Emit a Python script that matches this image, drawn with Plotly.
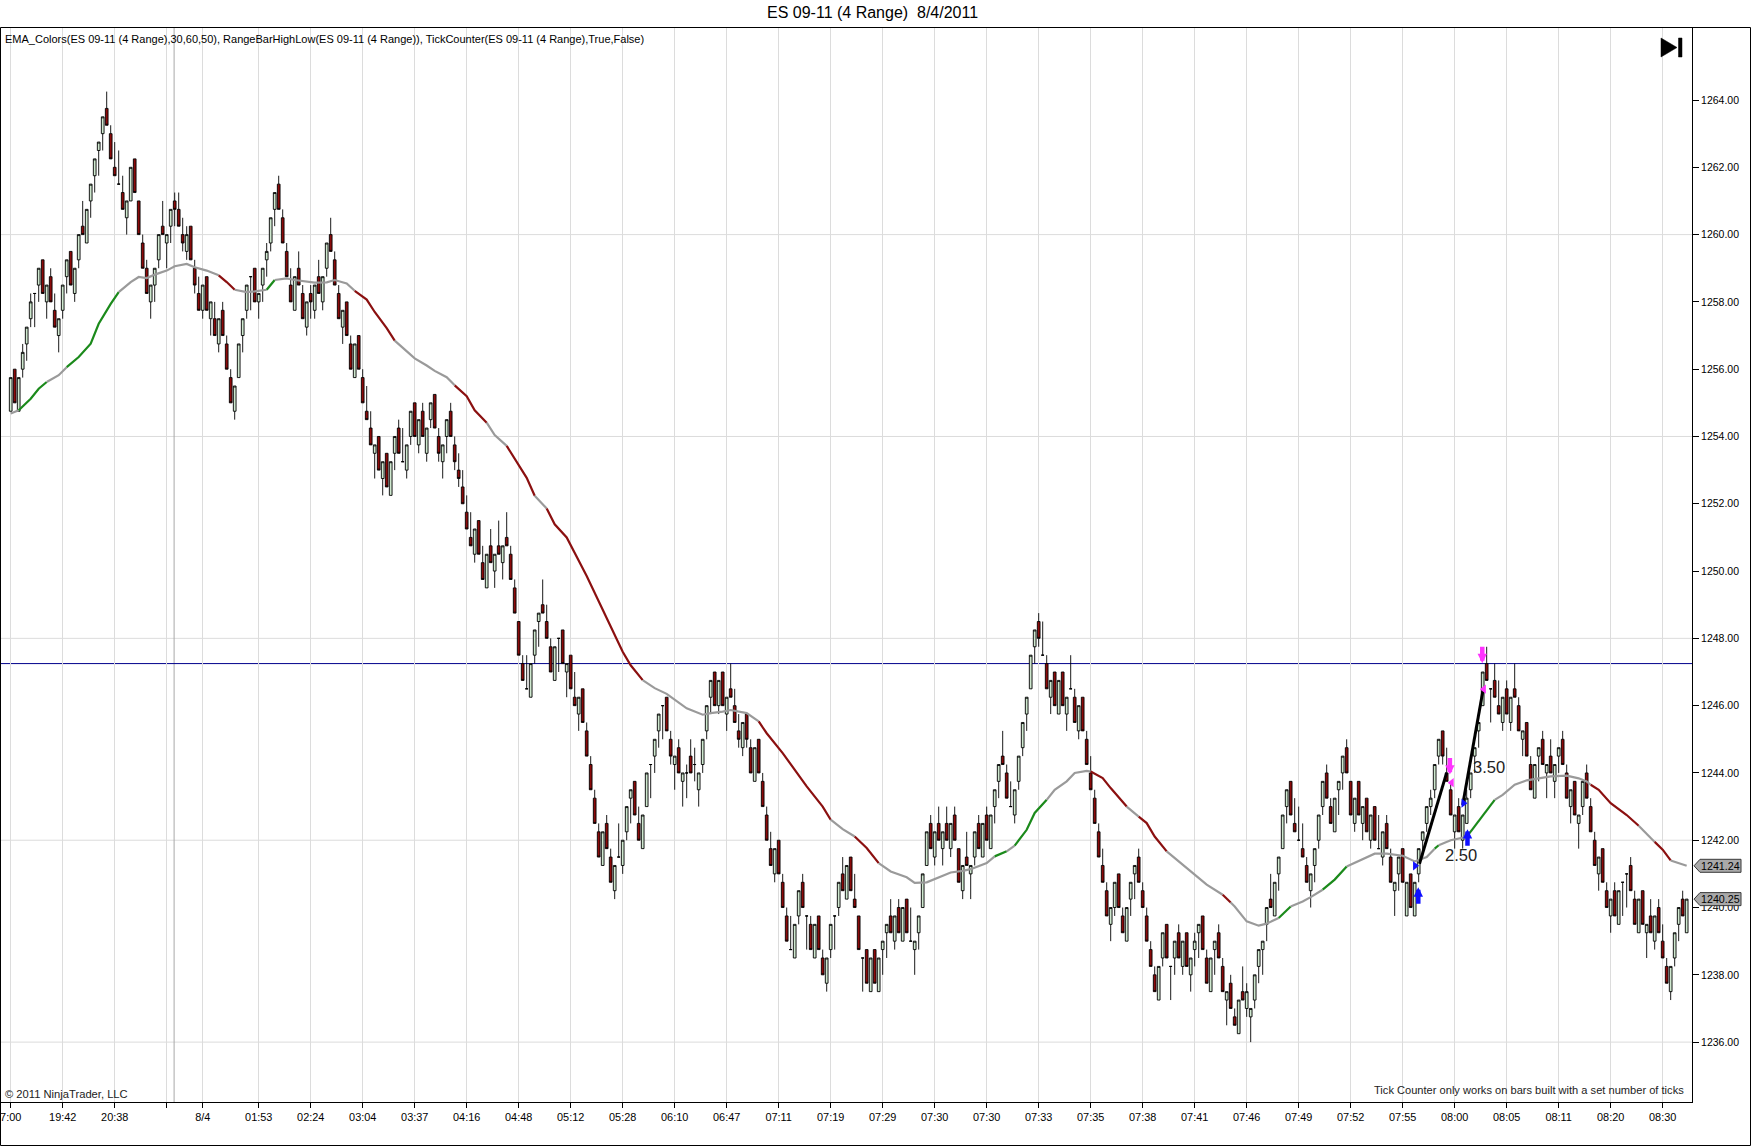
import plotly.graph_objects as go

# ES 09-11 4-range bars, 8/4/2011
opens = [
    1254.75, 1256.0, 1254.75, 1256.0, 1256.75, 1257.5, 1258.25, 1258.5, 1259.25, 1258.0,
    1258.75, 1257.75, 1257.0, 1257.75, 1258.75, 1259.5, 1258.25, 1259.25, 1260.25, 1259.75,
    1261.0, 1261.75, 1262.5, 1263.0, 1263.75, 1263.0, 1262.0, 1261.5, 1261.25, 1260.5,
    1261.0, 1262.25, 1261.0, 1259.75, 1259.0, 1258.0, 1258.5, 1259.25, 1260.25, 1259.75,
    1260.25, 1261.0, 1260.75, 1260.0, 1259.5, 1260.25, 1259.0, 1258.25, 1257.75, 1258.75,
    1257.5, 1257.5, 1256.75, 1257.75, 1256.75, 1255.75, 1254.75, 1255.75, 1257.0, 1257.75,
    1258.75, 1259.0, 1258.0, 1258.5, 1259.25, 1259.75, 1260.75, 1261.5, 1260.5, 1259.5,
    1258.5, 1257.75, 1259.0, 1258.25, 1257.25, 1258.25, 1257.75, 1258.75, 1258.0, 1259.0,
    1260.0, 1259.25, 1258.25, 1257.25, 1258.0, 1256.75, 1255.75, 1257.0, 1255.75, 1254.75,
    1254.25, 1253.5, 1254.0, 1252.75, 1253.5, 1252.25, 1253.5, 1254.25, 1253.25, 1253.0,
    1254.0, 1255.0, 1253.75, 1254.75, 1253.5, 1254.5, 1255.25, 1254.0, 1253.25, 1254.0,
    1254.75, 1253.75, 1253.0, 1252.5, 1251.75, 1251.0, 1250.5, 1251.5, 1250.25, 1249.5,
    1250.75, 1250.0, 1250.75, 1250.25, 1251.0, 1250.5, 1249.5, 1248.5, 1247.25, 1246.5,
    1246.25, 1247.5, 1248.5, 1249.0, 1248.5, 1247.75, 1246.75, 1248.0, 1248.25, 1247.0,
    1247.5, 1246.25, 1245.75, 1246.5, 1245.25, 1244.25, 1243.25, 1242.25, 1241.25, 1242.5,
    1241.5, 1240.5, 1241.5, 1241.25, 1242.25, 1243.25, 1243.75, 1242.5, 1241.75, 1243.0,
    1244.25, 1244.5, 1245.25, 1246.0, 1246.25, 1245.0, 1244.25, 1244.75, 1243.75, 1244.0,
    1244.5, 1244.25, 1243.5, 1244.25, 1245.25, 1246.25, 1247.0, 1246.0, 1247.0, 1245.75,
    1246.5, 1246.0, 1245.25, 1244.75, 1245.75, 1244.75, 1243.75, 1245.0, 1243.75, 1242.75,
    1241.75, 1241.0, 1242.0, 1240.75, 1239.75, 1238.75, 1238.5, 1239.75, 1240.75, 1239.75,
    1239.5, 1238.5, 1239.75, 1238.5, 1237.75, 1238.75, 1239.75, 1240.0, 1241.0, 1240.25,
    1241.5, 1240.25, 1239.75, 1238.5, 1238.75, 1237.5, 1238.75, 1237.5, 1238.75, 1239.25,
    1239.75, 1239.0, 1240.0, 1239.0, 1240.25, 1239.0, 1238.75, 1239.25, 1240.0, 1241.25,
    1242.5, 1241.5, 1242.5, 1241.75, 1242.5, 1241.75, 1242.75, 1241.75, 1240.5, 1241.5,
    1241.0, 1241.5, 1242.5, 1241.5, 1242.75, 1241.75, 1243.0, 1243.75, 1244.5, 1244.0,
    1243.0, 1242.75, 1243.75, 1244.75, 1245.75, 1246.5, 1247.75, 1248.5, 1247.5, 1247.25,
    1246.25, 1247.0, 1245.75, 1247.0, 1245.75, 1246.5, 1246.25, 1245.25, 1246.25, 1245.0,
    1244.0, 1243.25, 1242.25, 1241.25, 1240.5, 1239.5, 1240.0, 1241.0, 1239.75, 1239.0,
    1240.25, 1241.0, 1241.5, 1240.5, 1239.75, 1238.75, 1238.0, 1237.25, 1238.5, 1239.5,
    1238.25, 1238.5, 1239.25, 1238.25, 1239.25, 1238.0, 1238.75, 1239.25, 1239.75, 1238.5,
    1237.5, 1238.75, 1239.25, 1238.25, 1237.25, 1237.75, 1236.75, 1236.25, 1237.5, 1237.0,
    1236.75, 1237.25, 1238.25, 1238.75, 1239.5, 1240.25, 1239.75, 1241.0, 1241.75, 1243.0,
    1243.75, 1242.5, 1242.0, 1241.75, 1241.25, 1240.5, 1241.25, 1242.0, 1243.0, 1244.0,
    1243.0, 1242.25, 1243.5, 1244.0, 1244.75, 1243.75, 1242.5, 1243.75, 1242.5, 1243.25,
    1242.0, 1243.0, 1241.75, 1241.5, 1242.5, 1241.5, 1240.5, 1241.0, 1241.75, 1239.75,
    1241.0, 1239.75, 1241.0, 1242.0, 1242.5, 1243.0, 1243.5, 1244.5, 1245.25, 1244.0,
    1243.5, 1242.25, 1243.0, 1242.0, 1242.5, 1243.5, 1244.5, 1245.25, 1246.0, 1247.25,
    1246.5, 1246.75, 1246.0, 1245.5, 1246.5, 1245.5, 1246.5, 1246.0, 1245.0, 1245.5,
    1244.25, 1243.25, 1244.5, 1245.0, 1244.0, 1244.5, 1243.75, 1244.5, 1245.0, 1244.0,
    1243.0, 1243.75, 1242.5, 1243.0, 1244.0, 1243.0, 1242.0, 1241.0, 1241.75, 1240.5,
    1239.75, 1240.5, 1239.5, 1240.75, 1241.0, 1241.25, 1240.25, 1239.25, 1240.5, 1239.25,
    1239.75, 1239.0, 1240.0, 1239.0, 1238.25, 1237.5, 1238.5, 1239.5, 1240.25, 1239.25,
]
highs = [
    1255.75, 1256.0, 1255.75, 1256.75, 1257.25, 1258.25, 1258.25, 1259.0, 1259.25, 1258.5,
    1259.0, 1258.25, 1257.5, 1258.5, 1259.25, 1259.5, 1259.0, 1260.0, 1261.0, 1260.75,
    1261.5, 1262.25, 1262.75, 1263.5, 1264.25, 1263.25, 1262.75, 1262.5, 1261.75, 1261.0,
    1262.0, 1262.25, 1261.0, 1260.0, 1259.25, 1258.5, 1259.0, 1260.0, 1261.0, 1260.0,
    1260.75, 1261.25, 1261.25, 1260.5, 1260.25, 1260.25, 1259.25, 1258.75, 1258.5, 1258.75,
    1258.0, 1258.0, 1257.5, 1258.0, 1257.0, 1256.0, 1255.5, 1256.75, 1257.5, 1258.5,
    1258.75, 1259.0, 1258.25, 1259.0, 1259.75, 1260.5, 1261.25, 1261.75, 1260.75, 1259.75,
    1259.0, 1258.75, 1259.5, 1258.5, 1258.0, 1258.5, 1258.5, 1259.25, 1258.75, 1259.75,
    1260.5, 1259.5, 1258.5, 1257.75, 1258.0, 1257.0, 1256.75, 1257.0, 1256.0, 1255.5,
    1254.75, 1253.75, 1254.0, 1253.25, 1253.5, 1253.25, 1254.0, 1254.5, 1254.25, 1253.75,
    1254.75, 1255.0, 1254.5, 1255.0, 1254.25, 1255.0, 1255.25, 1254.25, 1253.75, 1254.5,
    1255.0, 1254.0, 1253.5, 1253.0, 1252.25, 1251.75, 1251.25, 1251.5, 1250.75, 1250.5,
    1251.25, 1250.5, 1251.5, 1250.75, 1251.75, 1250.75, 1249.75, 1248.5, 1247.5, 1247.5,
    1247.25, 1248.25, 1248.75, 1249.75, 1249.0, 1248.0, 1247.75, 1248.0, 1248.25, 1247.25,
    1247.5, 1247.0, 1246.25, 1246.5, 1245.5, 1244.5, 1243.5, 1242.5, 1242.25, 1242.75,
    1241.75, 1241.25, 1242.5, 1242.0, 1243.0, 1243.5, 1243.75, 1243.0, 1242.75, 1244.0,
    1244.25, 1245.0, 1245.75, 1246.0, 1246.25, 1245.25, 1244.5, 1245.0, 1244.0, 1244.25,
    1245.0, 1244.75, 1244.0, 1245.0, 1246.0, 1246.75, 1247.0, 1246.75, 1247.0, 1246.25,
    1247.25, 1246.5, 1245.75, 1245.5, 1245.75, 1245.0, 1244.75, 1245.0, 1244.0, 1243.0,
    1242.25, 1241.75, 1242.0, 1241.0, 1240.0, 1239.75, 1239.5, 1240.5, 1241.0, 1239.75,
    1239.75, 1239.5, 1239.75, 1238.75, 1238.5, 1239.5, 1239.75, 1240.75, 1241.5, 1241.25,
    1241.5, 1241.0, 1239.75, 1238.5, 1238.75, 1238.5, 1238.75, 1238.5, 1239.0, 1239.5,
    1240.25, 1239.75, 1240.25, 1240.0, 1240.25, 1240.0, 1239.0, 1239.75, 1241.0, 1242.25,
    1242.75, 1242.25, 1243.0, 1242.25, 1243.0, 1242.5, 1243.0, 1241.75, 1241.25, 1242.25,
    1241.25, 1242.25, 1242.75, 1242.5, 1243.0, 1242.75, 1243.5, 1244.25, 1245.25, 1244.25,
    1243.75, 1243.5, 1244.5, 1245.5, 1246.25, 1247.5, 1248.25, 1248.75, 1248.5, 1247.5,
    1246.75, 1247.0, 1246.75, 1247.0, 1246.25, 1247.5, 1246.5, 1246.0, 1246.25, 1245.25,
    1244.5, 1243.5, 1242.5, 1241.75, 1240.75, 1240.0, 1240.75, 1241.0, 1240.0, 1240.0,
    1240.75, 1241.25, 1241.75, 1240.75, 1240.0, 1239.0, 1238.25, 1238.25, 1239.25, 1239.5,
    1238.25, 1239.0, 1239.5, 1239.0, 1239.25, 1238.5, 1239.25, 1239.5, 1239.75, 1238.75,
    1238.5, 1239.0, 1239.5, 1238.5, 1237.5, 1238.0, 1237.0, 1237.25, 1238.25, 1237.75,
    1237.0, 1238.0, 1238.75, 1239.0, 1240.0, 1241.0, 1240.75, 1241.5, 1242.75, 1243.5,
    1243.75, 1243.25, 1243.0, 1242.5, 1241.5, 1241.0, 1241.75, 1242.75, 1243.75, 1244.25,
    1243.25, 1243.25, 1243.75, 1244.5, 1245.0, 1243.75, 1243.25, 1243.75, 1243.0, 1243.25,
    1242.75, 1243.0, 1242.75, 1242.25, 1242.75, 1241.75, 1240.75, 1241.5, 1241.75, 1240.75,
    1241.0, 1240.75, 1241.75, 1242.25, 1243.0, 1243.5, 1244.25, 1245.0, 1245.25, 1244.75,
    1243.75, 1242.75, 1243.25, 1242.75, 1243.5, 1244.0, 1244.75, 1245.5, 1247.0, 1247.75,
    1246.5, 1247.25, 1246.75, 1246.25, 1246.75, 1246.25, 1247.25, 1246.25, 1245.25, 1245.5,
    1244.5, 1244.25, 1244.75, 1245.25, 1244.25, 1245.0, 1244.25, 1244.75, 1245.25, 1244.25,
    1243.5, 1243.75, 1242.75, 1243.75, 1244.25, 1243.25, 1242.25, 1241.5, 1241.75, 1240.75,
    1240.25, 1240.75, 1240.5, 1240.75, 1241.0, 1241.5, 1240.5, 1240.25, 1240.5, 1239.5,
    1240.25, 1239.75, 1240.25, 1239.5, 1238.5, 1238.25, 1239.25, 1240.0, 1240.5, 1240.25,
]
lows = [
    1254.75, 1255.0, 1254.75, 1255.75, 1256.25, 1257.25, 1257.25, 1258.0, 1258.25, 1257.5,
    1258.0, 1257.25, 1256.5, 1257.5, 1258.25, 1258.5, 1258.0, 1259.0, 1260.0, 1259.75,
    1260.5, 1261.25, 1261.75, 1262.5, 1263.25, 1262.25, 1261.75, 1261.5, 1260.75, 1260.0,
    1261.0, 1261.25, 1260.0, 1259.0, 1258.25, 1257.5, 1258.0, 1259.0, 1260.0, 1259.0,
    1259.75, 1260.25, 1260.25, 1259.5, 1259.25, 1259.25, 1258.25, 1257.75, 1257.5, 1257.75,
    1257.0, 1257.0, 1256.5, 1257.0, 1256.0, 1255.0, 1254.5, 1255.75, 1256.5, 1257.5,
    1257.75, 1258.0, 1257.5, 1258.0, 1258.75, 1259.5, 1260.25, 1260.75, 1259.75, 1258.75,
    1258.0, 1257.75, 1258.5, 1257.5, 1257.0, 1257.5, 1257.5, 1258.25, 1257.75, 1258.75,
    1259.5, 1258.5, 1257.5, 1256.75, 1257.0, 1256.0, 1255.75, 1256.0, 1255.0, 1254.5,
    1253.75, 1252.75, 1253.0, 1252.25, 1252.5, 1252.25, 1253.0, 1253.5, 1253.25, 1252.75,
    1253.75, 1254.0, 1253.5, 1254.0, 1253.25, 1254.25, 1254.25, 1253.25, 1252.75, 1253.5,
    1254.0, 1253.0, 1252.5, 1252.0, 1251.25, 1250.75, 1250.25, 1250.5, 1249.75, 1249.5,
    1250.25, 1249.5, 1250.5, 1249.75, 1250.75, 1249.75, 1248.75, 1247.5, 1246.75, 1246.5,
    1246.25, 1247.25, 1247.75, 1248.75, 1248.0, 1247.0, 1246.75, 1247.0, 1247.25, 1246.25,
    1246.5, 1246.0, 1245.25, 1245.5, 1244.5, 1243.5, 1242.5, 1241.5, 1241.25, 1241.75,
    1240.75, 1240.25, 1241.5, 1241.0, 1242.0, 1242.5, 1242.75, 1242.0, 1241.75, 1243.0,
    1243.25, 1244.0, 1244.75, 1245.0, 1245.25, 1244.25, 1243.5, 1244.0, 1243.0, 1243.25,
    1244.0, 1243.75, 1243.0, 1244.0, 1245.0, 1245.75, 1246.0, 1245.75, 1246.0, 1245.25,
    1246.25, 1245.5, 1244.75, 1244.5, 1244.75, 1244.0, 1243.75, 1244.0, 1243.0, 1242.0,
    1241.25, 1240.75, 1241.0, 1240.0, 1239.0, 1238.75, 1238.5, 1239.5, 1240.0, 1238.75,
    1238.75, 1238.5, 1238.75, 1238.0, 1237.5, 1238.5, 1238.75, 1239.75, 1240.5, 1240.25,
    1240.5, 1240.0, 1238.75, 1237.5, 1237.75, 1237.5, 1237.75, 1237.5, 1238.0, 1238.5,
    1239.25, 1238.75, 1239.25, 1239.0, 1239.25, 1239.0, 1238.0, 1238.75, 1240.0, 1241.25,
    1241.75, 1241.25, 1242.0, 1241.25, 1242.0, 1241.5, 1242.0, 1240.75, 1240.25, 1241.25,
    1240.25, 1241.25, 1241.75, 1241.5, 1242.0, 1241.75, 1242.5, 1243.25, 1244.25, 1243.25,
    1243.0, 1242.5, 1243.5, 1244.5, 1245.25, 1246.5, 1247.25, 1247.75, 1247.5, 1246.5,
    1245.75, 1246.0, 1245.75, 1246.0, 1245.25, 1246.5, 1245.5, 1245.0, 1245.25, 1244.25,
    1243.5, 1242.5, 1241.5, 1240.75, 1239.75, 1239.0, 1239.75, 1240.0, 1239.25, 1239.0,
    1239.75, 1240.25, 1240.75, 1240.0, 1239.0, 1238.25, 1237.5, 1237.25, 1238.25, 1238.5,
    1237.25, 1238.0, 1238.5, 1238.0, 1238.25, 1237.5, 1238.25, 1238.5, 1238.75, 1237.75,
    1237.5, 1238.0, 1238.5, 1237.5, 1236.5, 1237.0, 1236.5, 1236.25, 1237.25, 1236.75,
    1236.0, 1237.0, 1237.75, 1238.0, 1239.0, 1240.0, 1239.75, 1240.5, 1241.75, 1242.5,
    1242.75, 1242.25, 1242.0, 1241.5, 1240.75, 1240.0, 1240.75, 1241.75, 1242.75, 1243.25,
    1242.5, 1242.25, 1242.75, 1243.5, 1244.0, 1242.75, 1242.25, 1242.75, 1242.0, 1242.25,
    1241.75, 1242.0, 1241.75, 1241.25, 1241.75, 1240.75, 1239.75, 1240.5, 1240.75, 1239.75,
    1240.0, 1239.75, 1240.75, 1241.5, 1242.25, 1242.75, 1243.25, 1244.25, 1244.25, 1243.75,
    1242.75, 1241.75, 1242.25, 1241.75, 1242.5, 1243.25, 1244.0, 1244.75, 1246.0, 1246.75,
    1245.5, 1246.25, 1245.75, 1245.25, 1245.75, 1245.25, 1246.25, 1245.25, 1244.5, 1244.5,
    1243.5, 1243.25, 1243.75, 1244.25, 1243.25, 1244.0, 1243.25, 1244.0, 1244.25, 1243.25,
    1242.5, 1242.75, 1241.75, 1242.75, 1243.25, 1242.25, 1241.25, 1240.5, 1240.75, 1240.0,
    1239.25, 1239.75, 1239.5, 1239.75, 1240.0, 1240.5, 1239.5, 1239.25, 1239.5, 1238.5,
    1239.25, 1238.75, 1239.25, 1238.5, 1237.75, 1237.25, 1238.25, 1239.0, 1239.75, 1239.25,
]
closes = [
    1255.75, 1255.0, 1255.75, 1256.5, 1257.25, 1258.0, 1258.25, 1259.0, 1258.25, 1258.5,
    1258.0, 1257.25, 1257.5, 1258.5, 1259.25, 1258.5, 1259.0, 1260.0, 1260.0, 1260.75,
    1261.5, 1262.25, 1262.75, 1263.5, 1263.25, 1262.25, 1261.75, 1261.5, 1260.75, 1261.0,
    1262.0, 1261.25, 1260.0, 1259.0, 1258.25, 1258.5, 1259.0, 1260.0, 1260.0, 1260.0,
    1260.75, 1260.75, 1260.25, 1259.75, 1260.0, 1259.25, 1258.5, 1257.75, 1258.5, 1257.75,
    1258.0, 1257.0, 1257.5, 1257.0, 1256.0, 1255.0, 1255.5, 1256.75, 1257.5, 1258.5,
    1258.75, 1258.0, 1258.25, 1259.0, 1259.5, 1260.5, 1261.25, 1260.75, 1259.75, 1258.75,
    1258.0, 1258.75, 1258.5, 1257.5, 1258.0, 1258.0, 1258.5, 1258.25, 1258.75, 1259.75,
    1259.5, 1258.5, 1257.5, 1257.75, 1257.0, 1256.0, 1256.75, 1256.0, 1255.0, 1254.5,
    1253.75, 1253.75, 1253.0, 1253.25, 1252.5, 1253.25, 1254.0, 1253.5, 1253.25, 1253.75,
    1254.75, 1254.0, 1254.5, 1254.0, 1254.25, 1255.0, 1254.25, 1253.5, 1253.75, 1254.5,
    1254.0, 1253.25, 1252.75, 1252.0, 1251.25, 1250.75, 1251.25, 1250.5, 1249.75, 1250.5,
    1250.25, 1250.5, 1250.5, 1250.75, 1250.75, 1249.75, 1248.75, 1247.5, 1246.75, 1246.5,
    1247.25, 1248.25, 1248.75, 1248.75, 1248.0, 1247.0, 1247.75, 1248.0, 1247.25, 1247.25,
    1246.5, 1246.0, 1246.25, 1245.5, 1244.5, 1243.5, 1242.5, 1241.5, 1242.25, 1241.75,
    1240.75, 1241.25, 1241.5, 1242.0, 1243.0, 1243.5, 1242.75, 1242.0, 1242.75, 1244.0,
    1244.25, 1245.0, 1245.75, 1246.0, 1245.25, 1244.5, 1244.5, 1244.0, 1244.0, 1244.0,
    1244.0, 1244.25, 1244.0, 1245.0, 1246.0, 1246.75, 1246.0, 1246.75, 1246.0, 1246.25,
    1246.25, 1245.5, 1245.0, 1245.5, 1245.0, 1244.0, 1244.75, 1244.0, 1243.0, 1242.0,
    1241.25, 1241.75, 1241.0, 1240.0, 1239.0, 1238.75, 1239.5, 1240.5, 1240.0, 1239.75,
    1238.75, 1239.5, 1238.75, 1238.0, 1238.5, 1239.5, 1239.75, 1240.75, 1240.5, 1241.25,
    1240.5, 1240.0, 1238.75, 1238.5, 1237.75, 1238.5, 1237.75, 1238.5, 1239.0, 1239.5,
    1239.25, 1239.75, 1239.25, 1240.0, 1239.25, 1239.0, 1239.0, 1239.75, 1241.0, 1242.25,
    1241.75, 1242.25, 1242.0, 1242.25, 1242.0, 1242.5, 1242.0, 1240.75, 1241.25, 1241.25,
    1241.25, 1242.25, 1241.75, 1242.5, 1242.0, 1242.75, 1243.5, 1244.25, 1244.25, 1243.25,
    1243.0, 1243.5, 1244.5, 1245.5, 1246.25, 1247.5, 1248.25, 1248.0, 1247.5, 1246.5,
    1246.75, 1246.0, 1246.75, 1246.0, 1246.25, 1246.5, 1245.5, 1246.0, 1245.25, 1244.25,
    1243.5, 1242.5, 1241.5, 1240.75, 1239.75, 1240.0, 1240.75, 1240.0, 1239.25, 1240.0,
    1240.75, 1241.25, 1240.75, 1240.0, 1239.0, 1238.25, 1237.5, 1238.25, 1239.25, 1238.5,
    1238.25, 1239.0, 1238.5, 1239.0, 1238.25, 1238.5, 1239.0, 1239.5, 1238.75, 1237.75,
    1238.5, 1239.0, 1238.5, 1237.5, 1237.5, 1237.0, 1236.5, 1237.25, 1237.25, 1237.5,
    1237.0, 1238.0, 1238.75, 1239.0, 1240.0, 1240.0, 1240.75, 1241.5, 1242.75, 1243.5,
    1242.75, 1242.25, 1242.0, 1241.5, 1240.75, 1241.0, 1241.75, 1242.75, 1243.75, 1243.25,
    1242.5, 1243.25, 1243.75, 1244.5, 1244.0, 1242.75, 1243.25, 1242.75, 1243.0, 1242.25,
    1242.75, 1242.0, 1241.75, 1242.25, 1241.75, 1240.75, 1240.75, 1241.5, 1240.75, 1240.75,
    1240.0, 1240.75, 1241.75, 1242.25, 1243.0, 1243.25, 1244.25, 1245.0, 1244.5, 1243.75,
    1242.75, 1242.75, 1242.25, 1242.75, 1243.25, 1244.0, 1244.75, 1245.5, 1247.0, 1246.75,
    1246.5, 1246.25, 1245.75, 1246.25, 1245.75, 1246.25, 1246.25, 1245.25, 1245.25, 1244.5,
    1243.5, 1244.25, 1244.75, 1244.25, 1244.25, 1244.0, 1244.25, 1244.75, 1244.25, 1243.25,
    1243.5, 1242.75, 1242.75, 1243.75, 1243.25, 1242.25, 1241.25, 1241.5, 1240.75, 1240.0,
    1240.25, 1239.75, 1240.5, 1240.75, 1241.0, 1240.5, 1239.5, 1240.25, 1239.5, 1239.5,
    1239.25, 1239.75, 1239.25, 1238.5, 1237.75, 1238.25, 1239.25, 1240.0, 1239.75, 1240.25,
]
bar_index = list(range(len(closes)))

# EMA_Colors line: knots (bar, value) and colour of the stretch that starts there
# g = rising (green), r = falling (dark red), n = flat (grey)
ema_bar = [
    0, 2, 5, 7, 9, 12, 14, 17, 20, 22, 25, 27, 30, 32, 34, 36, 39, 41, 44, 46,
    49, 52, 54, 56, 59, 61, 64, 66, 69, 71, 74, 76, 79, 81, 84, 86, 89, 91, 94, 96,
    99, 101, 104, 106, 109, 111, 114, 116, 119, 121, 124, 126, 129, 131, 134, 136, 139, 141, 144, 147,
    150, 153, 155, 158, 161, 164, 166, 169, 173, 175, 178, 180, 184, 187, 189, 193, 196, 199, 203, 205,
    208, 211, 214, 217, 220, 224, 226, 229, 232, 235, 238, 240, 244, 246, 249, 251, 254, 256, 259, 261,
    264, 266, 269, 270, 273, 275, 279, 282, 284, 286, 289, 293, 296, 299, 303, 305, 306, 309, 312, 314,
    317, 320, 323, 325, 328, 331, 334, 338, 341, 344, 348, 351, 354, 356, 357, 360, 364, 366, 369, 371,
    373, 376, 379, 382, 385, 389, 392, 394, 395, 397, 400, 404, 407, 410, 411, 413, 415, 419,
]
ema_val = [
    1254.68, 1254.78, 1255.12, 1255.42, 1255.62, 1255.82, 1256.06, 1256.36, 1256.76, 1257.35,
    1257.94, 1258.29, 1258.59, 1258.74, 1258.71, 1258.81, 1258.93, 1259.06, 1259.13, 1259.03,
    1258.93, 1258.79, 1258.59, 1258.36, 1258.29, 1258.31, 1258.36, 1258.65, 1258.70, 1258.65,
    1258.60, 1258.57, 1258.58, 1258.65, 1258.55, 1258.33, 1258.07, 1257.70, 1257.22, 1256.85,
    1256.53, 1256.32, 1256.11, 1255.95, 1255.76, 1255.52, 1255.20, 1254.78, 1254.41, 1254.04,
    1253.72, 1253.35, 1252.77, 1252.24, 1251.86, 1251.39, 1251.00, 1250.55, 1249.85, 1249.10,
    1248.35, 1247.60, 1247.20, 1246.76, 1246.52, 1246.35, 1246.17, 1245.92, 1245.73, 1245.78,
    1245.82, 1245.87, 1245.78, 1245.53, 1245.18, 1244.59, 1244.09, 1243.60, 1243.00, 1242.61,
    1242.33, 1242.11, 1241.77, 1241.32, 1241.07, 1240.90, 1240.73, 1240.75, 1240.90, 1241.04,
    1241.09, 1241.14, 1241.32, 1241.52, 1241.67, 1241.84, 1242.31, 1242.81, 1243.20, 1243.50,
    1243.75, 1244.00, 1244.06, 1244.04, 1243.85, 1243.55, 1243.00, 1242.70, 1242.51, 1242.11,
    1241.67, 1241.27, 1240.97, 1240.68, 1240.38, 1240.15, 1240.03, 1239.59, 1239.46, 1239.52,
    1239.69, 1240.03, 1240.18, 1240.31, 1240.53, 1240.83, 1241.22, 1241.44, 1241.60, 1241.60,
    1241.54, 1241.37, 1241.50, 1241.75, 1241.85, 1242.00, 1242.10, 1242.41, 1242.90, 1243.20,
    1243.35, 1243.65, 1243.78, 1243.84, 1243.90, 1243.92, 1243.84, 1243.75, 1243.65, 1243.50,
    1243.10, 1242.75, 1242.43, 1242.06, 1241.95, 1241.72, 1241.40, 1241.24,
]
ema_col = [
    "n", "g", "g", "g", "n", "n", "g", "g", "g", "g", "g", "n", "n", "n", "n", "n", "n", "n", "n", "n",
    "n", "r", "r", "n", "n", "n", "g", "n", "n", "n", "n", "n", "n", "n", "n", "r", "r", "r", "r", "n",
    "n", "n", "n", "n", "n", "r", "r", "r", "n", "n", "r", "r", "r", "n", "r", "r", "r", "r", "r", "r",
    "r", "r", "r", "n", "n", "n", "n", "n", "n", "n", "n", "n", "n", "r", "r", "r", "r", "r", "r", "n",
    "n", "r", "r", "n", "n", "n", "n", "n", "n", "n", "n", "n", "n", "g", "n", "g", "g", "g", "n", "n",
    "n", "n", "n", "r", "r", "r", "n", "r", "r", "r", "n", "n", "n", "n", "r", "n", "n", "n", "n", "n",
    "g", "n", "n", "n", "g", "g", "n", "n", "n", "n", "n", "n", "n", "g", "n", "n", "g", "g", "g", "n",
    "n", "n", "n", "n", "n", "n", "n", "n", "r", "r", "r", "r", "n", "n", "r", "r", "n", "n",
]

# x-axis labels (bar index of each label)
tick_bars = [0, 13, 26, 39, 48, 62, 75, 88, 101, 114, 127, 140, 153, 166, 179, 192, 205,
             218, 231, 244, 257, 270, 283, 296, 309, 322, 335, 348, 361, 374, 387, 400, 413]
tick_text = ["7:00", "19:42", "20:38", "", "8/4", "01:53", "02:24", "03:04", "03:37", "04:16",
             "04:48", "05:12", "05:28", "06:10", "06:47", "07:11", "07:19", "07:29", "07:30",
             "07:30", "07:33", "07:35", "07:38", "07:41", "07:46", "07:49", "07:52", "07:55",
             "08:00", "08:05", "08:11", "08:20", "08:30"]
price_ticks = [1236, 1238, 1240, 1242, 1244, 1246, 1248, 1250, 1252, 1254, 1256, 1258, 1260, 1262, 1264]
session_break_bar = 40.85
range_high = 1247.25
hgrid_levels = [1236, 1242, 1248, 1254, 1260]

# TickCounter drawings
tc_line_bar = [352.2, 359.0, None, 363.0, 368.1]
tc_line_price = [1241.3, 1244.01, None, 1243.05, 1246.47]
tc_labels = ["2.50", "3.50"]
tc_label_bar = [362.65, 369.6]
tc_label_price = [1241.56, 1244.17]
up_arrow_bar = [351.9, 364.2]
up_arrow_price = [1240.6, 1242.33]
down_arrow_bar = [367.9, 359.8]
down_arrow_price = [1247.26, 1243.95]
start_mark_bar = [351.1, 363.2]
start_mark_price = [1241.24, 1243.1]
end_mark_bar = [368.3, 360.25]
end_mark_price = [1246.49, 1243.71]

last_ema = 1241.24
last_close = 1240.25

FONT = "Liberation Sans, Arial, sans-serif"
W, H = 1752, 1147
PLOT_L, PLOT_R, PLOT_T, PLOT_B = 0, 1692, 27, 1102
Y_RANGE = [1234.22, 1266.17]
X_RANGE = [-2.675, 420.33]


def px_x(px):
    return (px - PLOT_L) / (PLOT_R - PLOT_L)


def px_y(py):
    return (PLOT_B - py) / (PLOT_B - PLOT_T)


def price_py(p):
    return PLOT_B - (p - Y_RANGE[0]) / (Y_RANGE[1] - Y_RANGE[0]) * (PLOT_B - PLOT_T)


def paper_text(px, py, text, size, anchor="center", color="black"):
    fig.add_annotation(xref="paper", yref="paper", x=px_x(px), y=px_y(py), text=text,
                       xanchor=anchor, yanchor="middle", showarrow=False,
                       font=dict(family=FONT, size=size, color=color))


fig = go.Figure()

fig.add_trace(go.Candlestick(
    x=bar_index, open=opens, high=highs, low=lows, close=closes,
    increasing=dict(fillcolor="#cfe8cf", line=dict(color="black", width=0.9)),
    decreasing=dict(fillcolor="#8b0a0a", line=dict(color="black", width=0.9)),
    whiskerwidth=0, showlegend=False, hoverinfo="skip",
))

# EMA, split into coloured stretches
ema_colors = {"g": "#1b8a1b", "r": "#8b1010", "n": "#9a9a9a"}
start = 0
for i in range(1, len(ema_bar)):
    if i == len(ema_bar) - 1 or ema_col[i] != ema_col[start]:
        fig.add_trace(go.Scatter(
            x=ema_bar[start:i + 1], y=ema_val[start:i + 1], mode="lines",
            line=dict(color=ema_colors[ema_col[start]], width=2.2),
            showlegend=False, hoverinfo="skip",
        ))
        start = i

# tick counter swing lines and markers
fig.add_trace(go.Scatter(
    x=tc_line_bar, y=tc_line_price, mode="lines",
    line=dict(color="black", width=3), showlegend=False, hoverinfo="skip",
))
fig.add_trace(go.Scatter(
    x=start_mark_bar, y=start_mark_price, mode="markers",
    marker=dict(symbol="triangle-right", size=8, color="#1010ff"),
    showlegend=False, hoverinfo="skip",
))
fig.add_trace(go.Scatter(
    x=end_mark_bar, y=end_mark_price, mode="markers",
    marker=dict(symbol="triangle-left", size=8, color="#ff33ff"),
    showlegend=False, hoverinfo="skip",
))

for b, p in zip(up_arrow_bar, up_arrow_price):
    fig.add_annotation(x=b, y=p, ax=0, ay=18, text="", showarrow=True,
                       arrowhead=2, arrowsize=0.42, arrowwidth=4.5, arrowcolor="#1010ff")
for b, p in zip(down_arrow_bar, down_arrow_price):
    fig.add_annotation(x=b, y=p, ax=0, ay=-18, text="", showarrow=True,
                       arrowhead=2, arrowsize=0.42, arrowwidth=4.5, arrowcolor="#ff33ff")
for t, b, p in zip(tc_labels, tc_label_bar, tc_label_price):
    fig.add_annotation(x=b, y=p, text=t, showarrow=False, xanchor="center", yanchor="middle",
                       font=dict(family=FONT, size=16.5, color="#222222"))

shapes = []
for lv in hgrid_levels:
    shapes.append(dict(type="line", xref="paper", x0=0, x1=1, yref="y", y0=lv, y1=lv,
                       line=dict(color="#dcdcdc", width=1), layer="below"))
shapes.append(dict(type="line", xref="x", x0=session_break_bar, x1=session_break_bar,
                   yref="paper", y0=0, y1=1, line=dict(color="#a8a8a8", width=1), layer="below"))
shapes.append(dict(type="line", xref="paper", x0=0, x1=1, yref="y", y0=range_high, y1=range_high,
                   line=dict(color="#00008b", width=1), layer="below"))

# outer frame of the chart panel
shapes.append(dict(type="rect", xref="paper", yref="paper",
                   x0=px_x(0.5), x1=px_x(1750.5), y0=px_y(1145.5), y1=px_y(27.5),
                   line=dict(color="black", width=1), fillcolor="rgba(0,0,0,0)"))

# "go to end" icon
shapes.append(dict(type="path", xref="paper", yref="paper", fillcolor="black",
                   line=dict(color="black", width=0.5),
                   path="M {} {} L {} {} L {} {} Z".format(px_x(1661), px_y(38), px_x(1677), px_y(47.5),
                                                         px_x(1661), px_y(57))))
shapes.append(dict(type="rect", xref="paper", yref="paper", fillcolor="black",
                   line=dict(color="black", width=0.5),
                   x0=px_x(1678.5), x1=px_x(1682), y0=px_y(57), y1=px_y(38)))

# price markers on the right axis
for val in [last_ema, last_close]:
    cy = price_py(val)
    pts = [(1694, cy), (1700, cy - 6.5), (1741, cy - 6.5), (1741, cy + 6.5), (1700, cy + 6.5)]
    path = "M " + " L ".join("{} {}".format(px_x(a), px_y(b)) for a, b in pts) + " Z"
    shapes.append(dict(type="path", xref="paper", yref="paper", path=path,
                       fillcolor="#a9a9a9", line=dict(color="#3a3a3a", width=1)))
    paper_text(1720.5, cy, "{:.2f}".format(val), 10.7)

# texts
paper_text(872, 13, "ES 09-11 (4 Range)\u00a0 8/4/2011", 16)
paper_text(3, 39, "EMA_Colors(ES 09-11 (4 Range),30,60,50), RangeBarHighLow(ES 09-11 (4 Range)), "
                  "TickCounter(ES 09-11 (4 Range),True,False)", 11, anchor="left")
paper_text(3, 1094, "\u00a9 2011 NinjaTrader, LLC", 11.2, anchor="left", color="#222222")
paper_text(1686, 1090, "Tick Counter only works on bars built with a set number of ticks", 11.1,
           anchor="right", color="#222222")

fig.update_layout(
    width=W, height=H,
    margin=dict(l=PLOT_L, r=W - PLOT_R, t=PLOT_T, b=H - PLOT_B, pad=0),
    paper_bgcolor="white", plot_bgcolor="white",
    shapes=shapes, showlegend=False,
    boxgap=0.1, boxgroupgap=0.25,
    font=dict(family=FONT, size=10.7, color="black"),
    xaxis=dict(range=X_RANGE, rangeslider=dict(visible=False), tickmode="array",
               tickvals=tick_bars, ticktext=tick_text, showgrid=True, gridcolor="#dcdcdc",
               gridwidth=1, zeroline=False, ticks="outside", ticklen=5, tickcolor="black",
               showline=True, linecolor="black", linewidth=1,
               tickfont=dict(family=FONT, size=10.9, color="black")),
    yaxis=dict(range=Y_RANGE, side="right", tickmode="array", tickvals=price_ticks,
               tickformat=".2f", showgrid=False, zeroline=False, ticks="outside",
               ticklen=6, tickcolor="black", showline=True, linecolor="black", linewidth=1,
               tickfont=dict(family=FONT, size=10.5, color="black")),
)

fig.write_html("out.html", config={"displayModeBar": False},
               post_script="document.body.style.margin='0px';")
